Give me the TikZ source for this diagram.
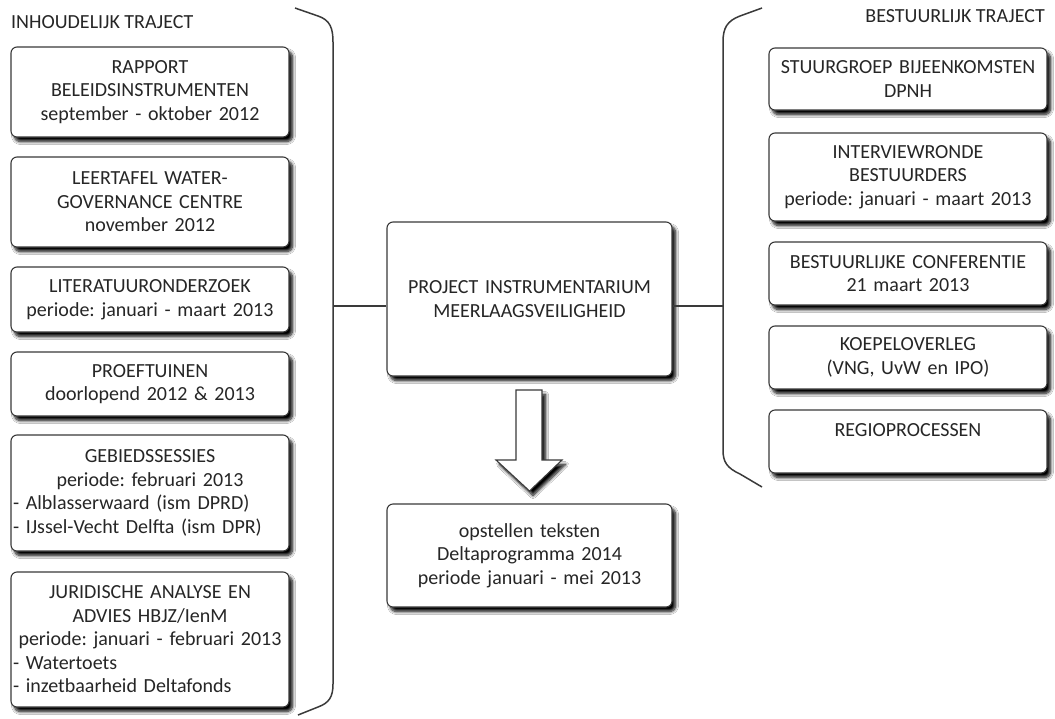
\documentclass[tikz,border=0pt]{standalone}
\usepackage{fontspec}
\setmainfont{Carlito}
\usetikzlibrary{shadows.blur,calc}
\definecolor{txt}{HTML}{262626}
\definecolor{edgec}{HTML}{3A3A3A}
\newcommand{\lline}[1]{\makebox[\linewidth][l]{#1}}
\frenchspacing
\tikzset{
  shad/.style={blur shadow={shadow xshift=3.5pt, shadow yshift=-4.5pt, shadow blur radius=3pt, shadow blur steps=8, shadow opacity=100}},
  box/.style={draw=edgec, line width=1.1pt, rounded corners=6pt, fill=white,
    align=center, text=txt, font=\fontsize{20}{23.5}\selectfont\frenchspacing,
    inner xsep=2pt, inner ysep=0pt, text width=274pt, shad},
  widebox/.style={box, text width=281pt},
  header/.style={text=txt, font=\fontsize{20}{23.5}\selectfont, inner sep=0pt},
  link/.style={draw=edgec, line width=1.5pt},
  bracec/.style={draw=edgec, line width=1.5pt},
}
\begin{document}
\begin{tikzpicture}[x=1pt,y=-1pt]
\useasboundingbox (0,0) rectangle (1055,718);
\fill[white] (0,0) rectangle (1055,718);

% headers
\node[header, anchor=base west] (hl) at (11,28) {INHOUDELIJK TRAJECT};
\node[header, anchor=base east] (hr) at (1045,22) {BESTUURLIJK TRAJECT};

% left column
\node[box, minimum height=90pt] (l1) at (150,92) {RAPPORT\\BELEIDSINSTRUMENTEN\\september - oktober 2012};
\node[box, minimum height=90pt] (l2) at (150,202) {LEERTAFEL WATER-\\GOVERNANCE CENTRE\\november 2012};
\node[box, minimum height=65pt] (l3) at (150,299.5) {LITERATUURONDERZOEK\\periode: januari - maart 2013};
\node[box, minimum height=64pt] (l4) at (150,384) {PROEFTUINEN\\doorlopend 2012 \& 2013};
\node[box, minimum height=116pt] (l5) at (150,493) {GEBIEDSSESSIES\\periode: februari 2013\\\lline{- Alblasserwaard (ism DPRD)}\\\lline{- IJssel-Vecht Delfta (ism DPR)}};
\node[box, minimum height=135pt] (l6) at (150,639.5) {JURIDISCHE ANALYSE EN\\ADVIES HBJZ/IenM\\periode: januari - februari 2013\\\lline{- Watertoets}\\\lline{- inzetbaarheid Deltafonds}};

% right column
\node[box, minimum height=62pt] (r1) at (908,79) {STUURGROEP BIJEENKOMSTEN\\DPNH};
\node[box, minimum height=88pt] (r2) at (908,177) {INTERVIEWRONDE\\BESTUURDERS\\periode: januari - maart 2013};
\node[box, minimum height=63pt] (r3) at (908,273.5) {BESTUURLIJKE CONFERENTIE\\21 maart 2013};
\node[box, minimum height=63pt] (r4) at (908,357.5) {KOEPELOVERLEG\\(VNG, UvW en IPO)};
\node[box, minimum height=63pt] (r5) at (908,441.5) {REGIOPROCESSEN\\\mbox{}};

% center
\node[widebox, minimum height=154pt] (c) at (529.5,299) {PROJECT INSTRUMENTARIUM\\MEERLAAGSVEILIGHEID};
\node[widebox, minimum height=103pt] (b) at (529.5,555.5) {opstellen teksten\\Deltaprogramma 2014\\periode januari - mei 2013};

% braces
\coordinate (lj) at (333,306);
\coordinate (rj) at (723,306);
\path[bracec] (295,8) -- (318,16) .. controls (330,20) and (333,28) .. (333,42) -- (lj) -- (333,684) .. controls (333,697) and (329,703) .. (318,707) -- (298,715);
\path[bracec] (762,8) -- (740,16) .. controls (727,21) and (723,28) .. (723,42) -- (rj) -- (723,450) .. controls (723,462) and (727,468) .. (740,474) -- (762,487);

% connectors
\path[link] (lj) -- (lj -| c.west);
\path[link] (rj) -- (rj -| c.east);

% block arrow
\path[draw=edgec, line width=1.1pt, fill=white, line join=miter, shad]
  (516,390) -- (542,390) -- (542,460) -- (562,460) -- (529.5,491) -- (496,460) -- (516,460) -- cycle;
\end{tikzpicture}
\end{document}
